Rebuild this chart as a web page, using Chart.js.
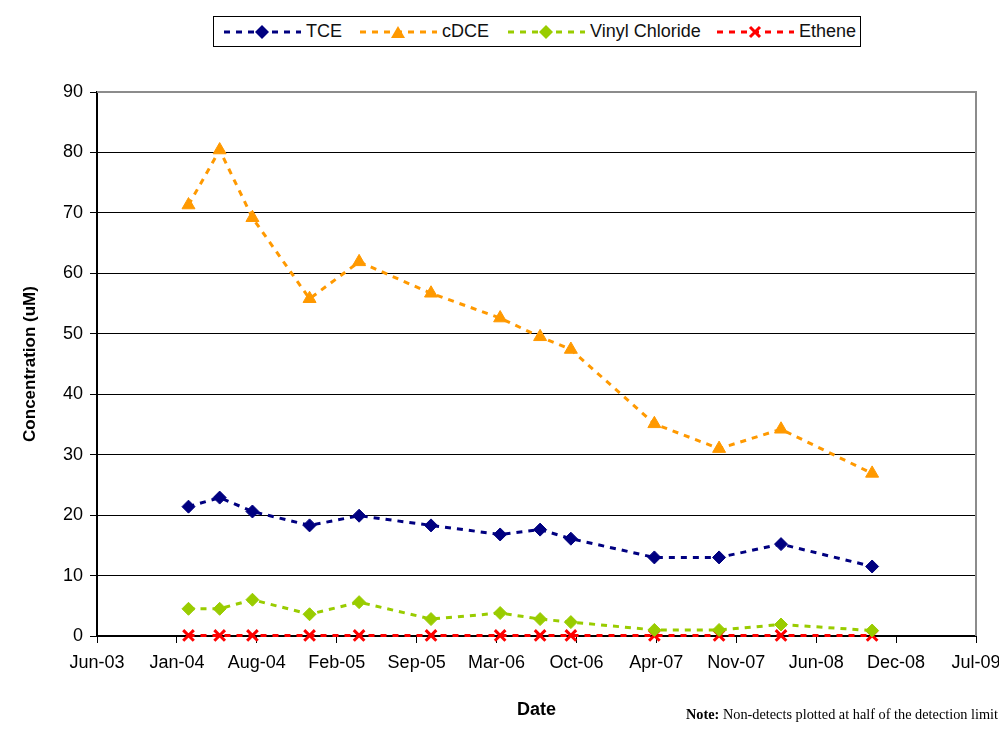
<!DOCTYPE html>
<html>
<head>
<meta charset="utf-8">
<script src="https://cdn.jsdelivr.net/npm/chart.js@4"></script>
<style>
  body { margin: 0; background: #fff; width: 999px; height: 740px; overflow: hidden; position: relative; }
  #legend { position: absolute; left: 213px; top: 16px; width: 646px; height: 29px; border: 1px solid #000; background: #fff;
            font-family: "Liberation Sans", Arial, sans-serif; font-size: 18px; color: #111; }
  .item { position: absolute; top: 0; height: 29px; display: flex; align-items: center; }
  .item svg { margin-right: 5px; }
  #note { position: absolute; left: 686px; top: 706px; white-space: nowrap; font-family: "Liberation Serif", serif; font-size: 14.3px; color: #000; }
</style>
</head>
<body>
<canvas id="chart" width="999" height="740"></canvas>
<div id="legend"></div>
<div id="note"><b>Note:</b> Non-detects plotted at half of the detection limit</div>
<script>
const sampleDates = ["2004-02-14", "2004-05-02", "2004-07-23", "2004-12-13", "2005-04-16", "2005-10-13",
  "2006-04-04", "2006-07-13", "2006-09-28", "2007-04-25", "2007-10-04", "2008-03-07", "2008-10-21"];
const tce = [21.4, 22.9, 20.6, 18.3, 19.9, 18.3, 16.8, 17.6, 16.1, 13.0, 13.0, 15.2, 11.5];
const cdce = [71.3, 80.4, 69.2, 55.8, 61.9, 56.7, 52.6, 49.5, 47.4, 35.1, 31.0, 34.2, 26.9];
const vinylChloride = [4.5, 4.5, 6.0, 3.6, 5.6, 2.8, 3.8, 2.8, 2.3, 1.0, 1.0, 1.9, 0.9];
const ethene = [0.1, 0.1, 0.1, 0.1, 0.1, 0.1, 0.1, 0.1, 0.1, 0.1, 0.1, 0.1, 0.1];
const xTickLabels = ["Jun-03", "Jan-04", "Aug-04", "Feb-05", "Sep-05", "Mar-06", "Oct-06",
  "Apr-07", "Nov-07", "Jun-08", "Dec-08", "Jul-09"];

// x axis runs in days from the first tick (Excel style, 200 day major unit)
const axisStart = Date.UTC(2003, 5, 30);
const DAY = 86400000;
const dayOf = (s) => (Date.parse(s + "T00:00:00Z") - axisStart) / DAY;
const pts = (vals) => vals.map((v, i) => ({ x: dayOf(sampleDates[i]), y: v }));

const series = [
  { label: "TCE", data: tce, color: "#000080", style: "rectRot", radius: 6.5 },
  { label: "cDCE", data: cdce, color: "#FF9900", style: "triangle", radius: 7.5 },
  { label: "Vinyl Chloride", data: vinylChloride, color: "#99CC00", style: "rectRot", radius: 6.5 },
  { label: "Ethene", data: ethene, color: "#FF0000", style: "crossRot", radius: 7.5 },
];

const font = { family: '"Liberation Sans", Arial, sans-serif', size: 18 };

const plotFrame = {
  id: "plotFrame",
  beforeDatasetsDraw(chart) {
    const { ctx, chartArea: a } = chart;
    ctx.save();
    ctx.strokeStyle = "#8c8c8c";
    ctx.lineWidth = 2;
    ctx.beginPath();
    ctx.moveTo(a.left, a.top);
    ctx.lineTo(a.right, a.top);
    ctx.lineTo(a.right, a.bottom);
    ctx.stroke();
    ctx.restore();
  },
};

new Chart(document.getElementById("chart"), {
  type: "line",
  data: {
    datasets: series.map((s) => ({
      label: s.label,
      data: pts(s.data),
      borderColor: s.color,
      backgroundColor: s.color,
      borderWidth: 3,
      borderDash: [6, 6],
      pointStyle: s.style,
      pointRadius: s.radius,
      pointBorderWidth: s.style === "crossRot" ? 3 : 1,
      tension: 0,
      clip: false,
    })),
  },
  options: {
    responsive: false,
    animation: false,
    layout: { padding: { left: 0, right: 23, top: 92, bottom: 0 } },
    plugins: { legend: { display: false }, tooltip: { enabled: false } },
    scales: {
      x: {
        type: "linear",
        min: 0,
        max: 2200,
        afterFit: (s) => { s.height = 104; s.paddingLeft = 0; s.paddingRight = 0; },
        afterBuildTicks: (s) => { s.ticks = xTickLabels.map((_, i) => ({ value: i * 200 })); },
        ticks: {
          color: "#000",
          font: font,
          padding: 9,
          maxRotation: 0,
          autoSkip: false,
          callback: (v, i) => xTickLabels[i],
        },
        grid: { drawOnChartArea: false, color: "#000", tickLength: 7 },
        border: { color: "#000", width: 2 },
        title: { display: true, text: "Date", color: "#000", font: { ...font, weight: "bold" }, padding: { top: 0, bottom: 19 } },
      },
      y: {
        min: 0,
        max: 90,
        afterFit: (s) => { s.width = 97; s.paddingTop = 0; s.paddingBottom = 0; },
        ticks: { stepSize: 10, color: "#000", font: font, padding: 7 },
        grid: { color: "#000", lineWidth: 1, tickLength: 7 },
        border: { color: "#000", width: 2 },
        title: { display: true, text: "Concentration (uM)", color: "#000", font: { ...font, size: 17, weight: "bold" }, padding: { top: 20, bottom: 0 } },
      },
    },
  },
  plugins: [plotFrame],
});

// legend with line sample + marker, as in the spreadsheet chart
const legendLefts = [9, 145, 293, 502];
const markerSvg = (s) => {
  const c = s.color;
  if (s.style === "triangle") return `<polygon points="39,1 46,13 32,13" fill="${c}"/>`;
  if (s.style === "crossRot") return `<path d="M34,2 L44,12 M44,2 L34,12" stroke="${c}" stroke-width="3"/>`;
  return `<polygon points="39,0 46,7 39,14 32,7" fill="${c}"/>`;
};
const legend = document.getElementById("legend");
series.forEach((s, i) => {
  const el = document.createElement("div");
  el.className = "item";
  el.style.left = legendLefts[i] + "px";
  el.innerHTML = `<svg width="78" height="14"><line x1="1" y1="7" x2="78" y2="7" stroke="${s.color}" stroke-width="3" stroke-dasharray="6,6"/>${markerSvg(s)}</svg><span>${s.label}</span>`;
  legend.appendChild(el);
});
</script>
</body>
</html>
